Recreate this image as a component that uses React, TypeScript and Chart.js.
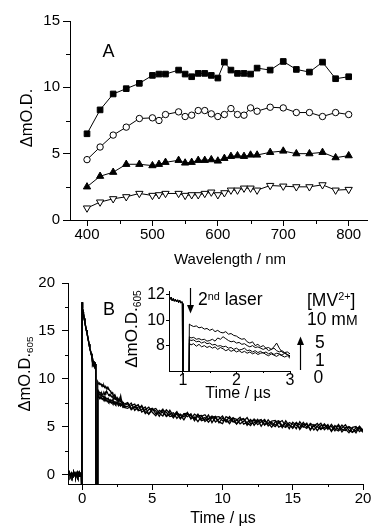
import React, { useEffect, useRef } from 'react';
import { Chart, registerables } from 'chart.js';

Chart.register(...registerables);

const FONT = "'Liberation Sans', Arial, Helvetica, sans-serif";

// ---------- Panel A: spectra ----------
const wavelengths = [400, 420, 440, 460, 480, 500, 510, 520, 540, 550, 560, 570, 580, 590, 600, 610, 620, 630, 640, 650, 660, 680, 700, 720, 740, 760, 780, 800];
const squares = [6.5, 8.3, 9.5, 9.9, 10.3, 10.9, 11.0, 11.0, 11.3, 11.0, 10.8, 11.05, 11.05, 10.9, 10.7, 11.9, 11.3, 11.05, 11.05, 11.0, 11.45, 11.3, 11.95, 11.35, 11.15, 11.9, 10.65, 10.8];
const circles = [4.55, 5.5, 6.4, 7.0, 7.65, 7.7, 7.5, 7.95, 8.15, 7.8, 7.9, 8.25, 8.25, 8.0, 7.8, 7.95, 8.4, 7.95, 7.9, 8.45, 8.2, 8.5, 8.45, 8.1, 8.1, 7.8, 8.1, 7.95];
const upTriangles = [2.5, 3.3, 3.6, 4.2, 4.2, 4.1, 4.2, 4.35, 4.5, 4.3, 4.35, 4.5, 4.5, 4.55, 4.45, 4.65, 4.8, 4.85, 4.8, 4.9, 4.9, 5.1, 5.2, 5.0, 5.0, 5.1, 4.7, 4.85];
const downTriangles = [0.9, 1.35, 1.6, 1.75, 2.0, 1.85, 1.9, 2.0, 2.0, 1.85, 1.9, 1.9, 2.0, 2.1, 1.9, 2.05, 2.25, 2.25, 2.4, 2.4, 2.25, 2.6, 2.55, 2.5, 2.5, 2.65, 2.25, 2.3];
const aXTicks = [400, 500, 600, 700, 800];
const aXMinor = [450, 550, 650, 750];
const aYTicks = [0, 5, 10, 15];
const aYMinor = [2.5, 7.5, 12.5];

// ---------- Panel B: kinetics at 605 nm ----------
const firstTimes = [-1, -0.95, -0.9, -0.85, -0.8, -0.75, -0.7, -0.65, -0.6, -0.55, -0.5, -0.45, -0.4, -0.35, -0.3, -0.25, -0.2, -0.15, -0.1, -0.05, -0.01,
  0, 0.02, 0.05, 0.08, 0.1, 0.15, 0.2, 0.25, 0.3, 0.35, 0.4, 0.45, 0.5, 0.55, 0.6, 0.65, 0.7,
  0.72, 0.74, 0.76, 0.78, 0.8, 0.82, 0.84, 0.86, 0.88, 0.9, 0.92, 0.94, 0.96, 0.98, 0.99, 1.0, 1.1];
const firstPulse = [0.1, -0.15, 0.2, 0.0, -0.25, 0.15, 0.05, -0.1, 0.25, -0.05, 0.1, -0.3, 0.0, 0.2, -0.15, 0.1, -0.2, 0.15, 0.0, -0.1, -3,
  18.0, 17.7, 17.3, 17.0, 16.8, 16.3, 15.9, 15.5, 15.1, 14.8, 14.4, 14.0, 13.6, 13.2, 12.9, 12.6, 12.3,
  12.1, 11.8, 11.65, 11.8, 11.55, 11.7, 11.5, 11.65, 11.45, 11.6, 11.4, 11.55, 11.35, 11.45, 11.3, -3, -3];
const secondTimes = [1.11, 1.12, 1.15, 1.2, 1.25, 1.3, 1.35, 1.4, 1.45, 1.5, 1.55, 1.6, 1.65, 1.7, 1.75, 1.8, 1.85, 1.9, 1.95, 2, 2.05, 2.1, 2.15, 2.2, 2.25, 2.3, 2.35, 2.4, 2.45, 2.5, 2.55, 2.6, 2.65, 2.7, 2.75, 2.8, 2.85, 2.9, 2.95, 3,
  3.25, 3.5, 3.75, 4, 4.25, 4.5, 4.75, 5, 5.25, 5.5, 5.75, 6, 6.25, 6.5, 6.75, 7, 7.25, 7.5, 7.75, 8, 8.25, 8.5, 8.75, 9, 9.25, 9.5, 9.75, 10,
  10.25, 10.5, 10.75, 11, 11.25, 11.5, 11.75, 12, 12.25, 12.5, 12.75, 13, 13.25, 13.5, 13.75, 14, 14.25, 14.5, 14.75, 15,
  15.25, 15.5, 15.75, 16, 16.25, 16.5, 16.75, 17, 17.25, 17.5, 17.75, 18, 18.25, 18.5, 18.75, 19, 19.25, 19.5, 19.75, 20];
const trace10mM = [-3,
  9.7, 9.6, 9.5, 9.55, 9.4, 9.45, 9.3, 9.35, 9.2, 9.3, 9.1, 9.2, 9.05, 9.0, 9.1, 8.9, 8.95, 8.8, 8.75, 8.6,
  8.5, 8.55, 8.3, 8.2, 8.3, 8.0, 8.1, 7.9, 8.0, 7.8, 7.85, 7.7, 7.8, 7.6, 7.5, 7.6, 7.45, 7.5, 7.35,
  7.5, 6.9, 7.1, 7.3, 6.52, 6.75, 7.03, 6.5, 6.14, 6.68, 6.46, 6.1, 6.7, 6.1, 6.3, 5.8, 6.36, 6.38, 5.84, 6.0,
  5.51, 6.07, 6.24, 5.75, 6.01, 5.48, 5.79, 6.1, 5.48, 5.6, 5.93, 5.25, 5.68, 5.8, 5.38, 5.1, 5.78, 5.45, 5.63, 5.15,
  5.71, 5.23, 4.99, 5.4, 5.63, 5.0, 5.23, 4.8, 5.38, 5.2, 4.93, 5.35, 4.63, 5.2, 4.98, 4.7, 5.28, 4.85, 5.03, 4.55,
  5.23, 4.7, 4.58, 5.0, 4.78, 4.35, 4.98, 4.5];
const trace5mM = [-3,
  8.7, 8.6, 8.65, 8.5, 8.55, 8.45, 8.5, 8.35, 8.4, 8.5, 8.35, 8.6, 8.5, 8.7, 8.55, 8.4, 8.3, 8.35, 8.2, 8.25,
  8.1, 8.15, 8.0, 7.9, 8.0, 7.85, 7.9, 7.8, 7.7, 7.8, 7.6, 7.7, 7.9, 8.2, 7.8, 7.5, 7.4, 7.3, 7.1,
  7.1, 7.45, 6.7, 7.05, 7.07, 6.35, 6.78, 6.9, 6.34, 6.43, 6.81, 6.05, 6.3, 6.45, 5.85, 6.3, 6.01, 6.48, 5.79, 6.3,
  6.06, 5.62, 5.74, 6.2, 5.41, 5.98, 6.04, 5.6, 5.73, 5.3, 5.88, 5.75, 5.28, 5.55, 5.93, 5.3, 5.38, 5.75, 5.03, 5.6,
  5.31, 5.58, 5.64, 4.95, 5.13, 5.35, 4.78, 5.45, 5.13, 4.9, 5.43, 4.95, 5.23, 4.65, 5.03, 5.35, 4.68, 5.0, 4.58, 5.1,
  4.68, 5.15, 4.73, 4.35, 4.93, 5.0, 4.48, 4.75];
const trace1mM = [-3,
  8.5, 8.4, 8.45, 8.3, 8.35, 8.2, 8.3, 8.15, 8.2, 8.05, 8.1, 7.95, 8.0, 7.9, 7.95, 7.8, 7.85, 7.7, 7.8, 7.65,
  7.7, 7.8, 7.6, 7.65, 7.5, 7.6, 7.45, 7.55, 7.4, 7.5, 7.35, 7.45, 7.3, 7.4, 7.35, 7.25, 7.4, 7.3, 7.2,
  7.4, 6.75, 7.05, 6.75, 7.22, 6.55, 6.33, 6.85, 6.64, 6.08, 6.71, 6.5, 6.05, 6.15, 6.55, 5.85, 6.31, 6.03, 6.34, 5.6,
  6.11, 6.17, 5.54, 5.85, 6.11, 5.88, 5.49, 5.3, 6.03, 5.85, 5.48, 5.65, 5.98, 5.25, 5.43, 5.75, 5.13, 5.6, 5.73, 5.2,
  5.36, 4.93, 5.49, 5.6, 5.08, 4.9, 5.43, 5.25, 4.78, 5.5, 5.03, 4.8, 5.33, 5.1, 4.58, 5.1, 5.18, 4.7, 5.23, 4.75,
  4.53, 4.85, 5.18, 4.6, 4.38, 4.9, 4.78, 4.4];
const trace0mM = [-3,
  8.2, 8.05, 8.15, 7.95, 8.1, 7.9, 8.0, 7.85, 7.95, 7.8, 7.9, 7.7, 7.85, 7.75, 7.6, 7.7, 7.55, 7.65, 7.5, 7.6,
  7.45, 7.55, 7.4, 7.5, 7.35, 7.45, 7.3, 7.4, 7.45, 7.3, 7.2, 7.35, 7.25, 7.15, 7.3, 7.2, 7.1, 7.2, 7.0,
  6.9, 7.2, 7.35, 6.65, 6.77, 7.05, 6.28, 6.75, 6.89, 6.38, 6.11, 6.75, 6.4, 5.9, 6.4, 6.2, 5.71, 6.33, 6.14, 5.8,
  6.31, 5.77, 5.94, 5.45, 5.91, 6.08, 5.39, 5.9, 5.53, 6.05, 5.58, 5.3, 5.73, 5.85, 5.13, 5.6, 5.68, 5.2, 5.48, 5.75,
  5.06, 5.43, 5.14, 5.5, 4.88, 5.6, 5.08, 4.95, 5.43, 4.7, 5.23, 5.25, 4.73, 5.05, 5.33, 4.75, 4.88, 5.2, 4.48, 5.0,
  5.08, 4.45, 4.88, 4.95, 4.43, 4.6, 5.03, 4.6];
const bXTicks = [0, 5, 10, 15, 20];
const bXMinor = [2.5, 7.5, 12.5, 17.5];
const bYTicks = [0, 5, 10, 15, 20];
const bYMinor = [2.5, 7.5, 12.5, 17.5];
const insetXTicks = [1, 2, 3];
const insetXMinor = [1.5, 2.5];
const insetYTicks = [8, 10, 12];

const toPoints = (xs: number[], ys: number[]) => xs.map((x, i) => ({ x, y: ys[i] }));
const traceData = (vals: number[]) => [...toPoints(firstTimes, firstPulse), ...toPoints(secondTimes, vals)];

const minorTicks = (xVals: number[], yVals: number[], len: number) => ({
  id: 'minorTicks',
  afterDraw(chart: any) {
    const { ctx, chartArea, scales } = chart;
    ctx.save();
    ctx.strokeStyle = '#000';
    ctx.lineWidth = 1;
    ctx.beginPath();
    xVals.forEach((v) => {
      const px = Math.round(scales.x.getPixelForValue(v)) + 0.5;
      ctx.moveTo(px, chartArea.bottom);
      ctx.lineTo(px, chartArea.bottom + len);
    });
    yVals.forEach((v) => {
      const py = Math.round(scales.y.getPixelForValue(v)) + 0.5;
      ctx.moveTo(chartArea.left - len, py);
      ctx.lineTo(chartArea.left, py);
    });
    ctx.stroke();
    ctx.restore();
  },
});

const axisCommon = (tickLength: number) => ({
  grid: { display: true, drawOnChartArea: false, drawTicks: true, tickLength, color: '#000', lineWidth: 1 },
  border: { display: true, color: '#000', width: 1 },
});

const xAxis = (min: number, max: number, vals: number[], h: number, tickLength: number, padding: number, size: number) => ({
  type: 'linear', position: 'bottom', min, max,
  afterBuildTicks: (s: any) => { s.ticks = vals.map((v) => ({ value: v })); },
  afterFit: (s: any) => { s.height = h; },
  ...axisCommon(tickLength),
  ticks: { color: '#000', font: { family: FONT, size }, padding, maxRotation: 0, autoSkip: false, callback: (v: any) => String(v) },
});

const yAxis = (min: number, max: number, vals: number[], w: number, tickLength: number, padding: number, size: number) => ({
  type: 'linear', position: 'left', min, max,
  afterBuildTicks: (s: any) => { s.ticks = vals.map((v) => ({ value: v })); },
  afterFit: (s: any) => { s.width = w; },
  ...axisCommon(tickLength),
  ticks: { color: '#000', font: { family: FONT, size }, padding, autoSkip: false, callback: (v: any) => String(v) },
});

const baseOptions = (padding: any) => ({
  responsive: false,
  animation: false,
  events: [],
  layout: { padding },
  plugins: { legend: { display: false }, tooltip: { enabled: false }, title: { display: false } },
});

const spectrum = (vals: number[], pointStyle: string, radius: number, fill: string, rotation = 0) => ({
  data: toPoints(wavelengths, vals),
  showLine: true,
  borderColor: '#000',
  borderWidth: 1,
  pointStyle,
  pointRadius: radius,
  pointBackgroundColor: fill,
  pointBorderColor: '#000',
  pointBorderWidth: 1,
  pointRotation: rotation,
});

const traceSet = (vals: number[], width: number) => ({
  data: traceData(vals),
  showLine: true,
  borderColor: '#000',
  borderWidth: width,
  pointRadius: 0,
});

const Label = ({ x, y, size, rotate, center = true, children }: any) => (
  <div
    style={{
      position: 'absolute', left: x, top: y, fontSize: size, lineHeight: 1, whiteSpace: 'nowrap',
      transform: `translate(${center ? '-50%' : '0'}, -50%)${rotate ? ' rotate(-90deg)' : ''}`,
    }}
  >
    {children}
  </div>
);

const Sub = ({ children }: any) => (
  <span style={{ fontSize: '0.6em', position: 'relative', top: '0.35em' }}>{children}</span>
);
const Sup = ({ children }: any) => (
  <span style={{ fontSize: '0.62em', position: 'relative', top: '-0.5em' }}>{children}</span>
);

export default function App() {
  const aRef = useRef<HTMLCanvasElement>(null);
  const bRef = useRef<HTMLCanvasElement>(null);
  const iRef = useRef<HTMLCanvasElement>(null);

  useEffect(() => {
    document.body.style.margin = '0';
    const chartA = new Chart(aRef.current as HTMLCanvasElement, {
      type: 'scatter',
      data: {
        datasets: [
          spectrum(squares, 'rect', 4, '#000'),
          spectrum(circles, 'circle', 3.2, '#fff'),
          spectrum(upTriangles, 'triangle', 4.2, '#000'),
          spectrum(downTriangles, 'triangle', 4.2, '#fff', 180),
        ],
      },
      options: {
        ...baseOptions({ left: 0, top: 21, right: 8, bottom: 0 }),
        scales: {
          x: xAxis(374, 828, aXTicks, 42, 6, 0, 15),
          y: yAxis(0, 15, aYTicks, 70, 7, 3, 15),
        },
      } as any,
      plugins: [minorTicks(aXMinor, aYMinor, 4)],
    } as any);

    const chartB = new Chart(bRef.current as HTMLCanvasElement, {
      type: 'scatter',
      data: { datasets: [traceSet(trace10mM, 1.3), traceSet(trace5mM, 1.3), traceSet(trace1mM, 1.3), traceSet(trace0mM, 1.3)] },
      options: {
        ...baseOptions({ left: 0, top: 21, right: 12, bottom: 0 }),
        scales: {
          x: xAxis(-1, 20, bXTicks, 44, 6, 0, 15),
          y: yAxis(-1, 20, bYTicks, 68, 6, 7, 15),
        },
      } as any,
      plugins: [minorTicks(bXMinor, bYMinor, 3)],
    } as any);

    const chartI = new Chart(iRef.current as HTMLCanvasElement, {
      type: 'scatter',
      data: { datasets: [traceSet(trace10mM, 1), traceSet(trace5mM, 1), traceSet(trace1mM, 1), traceSet(trace0mM, 1)] },
      options: {
        ...baseOptions({ left: 0, top: 11, right: 10, bottom: 0 }),
        scales: {
          x: xAxis(0.74, 3, insetXTicks, 29, 3, -3, 16),
          y: yAxis(6, 12.3, insetYTicks, 59, 3, 1, 16),
        },
      } as any,
      plugins: [minorTicks(insetXMinor, [], 2)],
    } as any);

    return () => {
      chartA.destroy();
      chartB.destroy();
      chartI.destroy();
    };
  }, []);

  return (
    <div style={{ position: 'relative', width: 375, height: 528, background: '#fff', color: '#000', fontFamily: FONT, overflow: 'hidden' }}>
      <canvas ref={aRef} width={375} height={262} style={{ position: 'absolute', left: 0, top: 0, width: 375, height: 262 }} />
      <canvas ref={bRef} width={375} height={266} style={{ position: 'absolute', left: 0, top: 262, width: 375, height: 266 }} />
      <canvas ref={iRef} width={190} height={120} style={{ position: 'absolute', left: 110, top: 280, width: 190, height: 120 }} />

      <Label x={108.5} y={51} size={18}>A</Label>
      <Label x={25.5} y={117.5} size={16.5} rotate>ΔmO.D.</Label>
      <Label x={230} y={257.5} size={15}>Wavelength / nm</Label>

      <Label x={109} y={309} size={18}>B</Label>
      <Label x={24} y={374} size={16.5} rotate>ΔmO.D.<Sub>605</Sub></Label>
      <Label x={223} y={518} size={16}>Time / µs</Label>

      <Label x={131} y={328.5} size={17} rotate>ΔmO.D.<Sub>605</Sub></Label>
      <Label x={238} y={393} size={16}>Time / µs</Label>

      <Label x={198} y={300} size={17.5} center={false}>2<Sup>nd</Sup> laser</Label>
      <Label x={307} y={300.5} size={17.5} center={false}>[MV<Sup>2+</Sup>]</Label>
      <Label x={307} y={320} size={17.5} center={false}>10 m<span style={{ fontSize: '0.8em' }}>M</span></Label>
      <Label x={315} y={343} size={17.5} center={false}>5</Label>
      <Label x={315} y={361} size={17.5} center={false}>1</Label>
      <Label x={313.5} y={377.5} size={17.5} center={false}>0</Label>

      <svg width={375} height={528} style={{ position: 'absolute', left: 0, top: 0, pointerEvents: 'none' }}>
        <line x1={190.5} y1={288} x2={190.5} y2={306} stroke="#000" strokeWidth={1.2} />
        <polygon points="187,305 194,305 190.5,313.5" fill="#000" />
        <line x1={300.5} y1={370} x2={300.5} y2={344} stroke="#000" strokeWidth={1.2} />
        <polygon points="297,345 304,345 300.5,336.5" fill="#000" />
      </svg>
    </div>
  );
}
